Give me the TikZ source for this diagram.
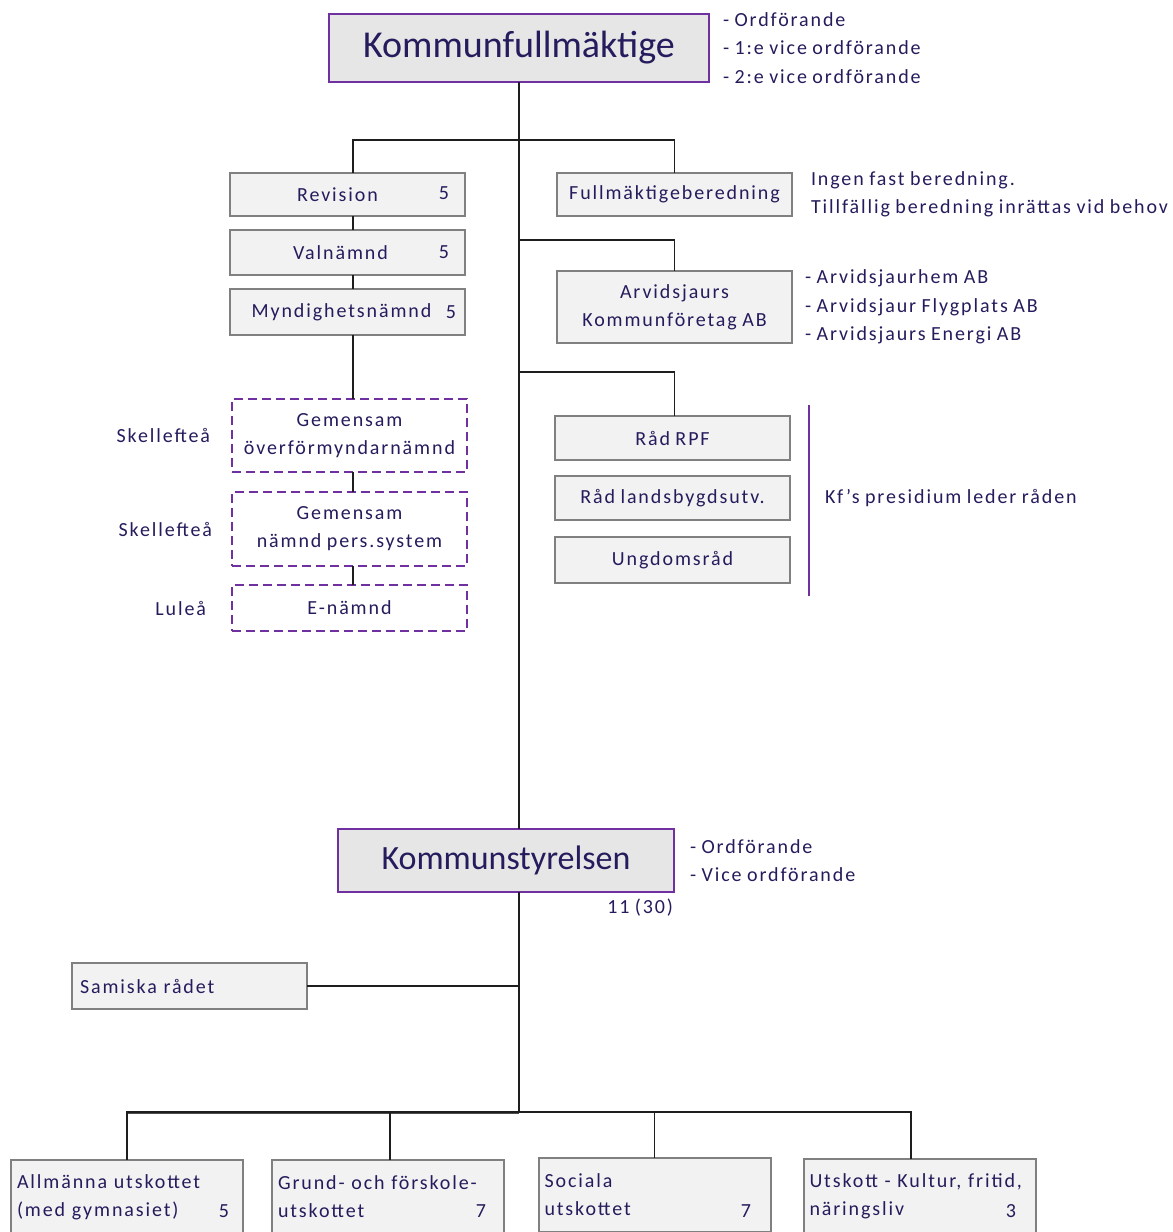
\documentclass[tikz,border=0pt]{standalone}
\usepackage{fontspec}
\setmainfont{Carlito}
\newfontfamily\orgface[LetterSpace=9.5,WordSpace=0.85]{Carlito}
\usetikzlibrary{positioning}

\definecolor{kfpurple}{RGB}{112,48,160}
\definecolor{boxgray}{RGB}{128,128,128}
\definecolor{boxfill}{RGB}{242,242,242}
\definecolor{topfill}{RGB}{230,230,230}
\definecolor{inktext}{RGB}{36,28,92}
\definecolor{treeline}{RGB}{30,30,30}

\begin{document}
\begin{tikzpicture}[x=1pt,y=-1pt,
    every node/.style={inner sep=0pt, outer sep=0pt, text=inktext},
    topbox/.style={draw=kfpurple, line width=2pt, fill=topfill},
    unitbox/.style={draw=boxgray, line width=2pt, fill=boxfill, font=\orgface\fontsize{20}{28}\selectfont, align=center, minimum width=235pt},
    jointbox/.style={draw=kfpurple, line width=2pt, dash pattern=on 9pt off 5pt, fill=white, font=\orgface\fontsize{20}{28}\selectfont, align=center, minimum width=235pt},
    footbox/.style={draw=boxgray, line width=2pt, fill=boxfill, font=\orgface\fontsize{20}{28}\selectfont, align=left, text width=220pt, inner xsep=6pt, minimum height=74pt, anchor=north},
    note/.style={font=\orgface\fontsize{20}{28.5}\selectfont, align=left},
    tree/.style={draw=treeline, line width=1.8pt}]
    \useasboundingbox (0,0) rectangle (1173,1232);
    \clip (0,0) rectangle (1173,1232);
    %Shape: Rectangle [Kommunfullmaktige]
    \node[topbox, minimum width=380pt, minimum height=68pt, font=\fontsize{38}{44}\selectfont] (kf) at (519,48) {Kommunfullmäktige};
    %Shape: Rectangle [left column]
    \node[unitbox, minimum height=43pt] (rev) at (347.5,194.5) {Revision\hspace*{20pt}};
    \node[unitbox, minimum height=45pt] (val) at (347.5,252.5) {Valnämnd\hspace*{14pt}};
    \node[unitbox, minimum height=46pt] (myn) at (347.5,312) {Myndighetsnämnd\hspace*{12pt}};
    \node[jointbox, minimum height=73pt] (gof) at (349.5,435.5) {Gemensam\\överförmyndarnämnd};
    \node[jointbox, minimum height=74pt] (gnp) at (349.5,529) {Gemensam\\nämnd pers.system};
    \node[jointbox, minimum height=46pt] (enm) at (349.5,608) {E-nämnd};
    %Shape: Rectangle [right column]
    \node[unitbox, minimum height=43pt] (fb) at (674.5,194.5) {Fullmäktigeberedning};
    \node[unitbox, minimum height=72pt] (akf) at (674.5,307) {Arvidsjaurs\\Kommunföretag AB};
    \node[unitbox, minimum height=44pt] (rpf) at (672.5,438) {Råd RPF};
    \node[unitbox, minimum height=44pt] (rlb) at (672.5,498) {Råd landsbygdsutv.};
    \node[unitbox, minimum height=46pt] (ungd) at (672.5,560) {Ungdomsråd};
    %Shape: Rectangle [Kommunstyrelsen]
    \node[topbox, minimum width=336pt, minimum height=63pt, font=\fontsize{34}{40}\selectfont] (ks) at (506,860.5) {Kommunstyrelsen};
    \node[unitbox, minimum height=46pt, text width=219pt, inner xsep=8pt, align=left, minimum width=0pt] (sam) at (189.5,986) {Samiska rådet};
    %Shape: Rectangle [utskott]
    \node[footbox] (allm) at (127,1160) {Allmänna utskottet\\(med gymnasiet)};
    \node[footbox] (grund) at (388,1160) {Grund- och förskole-\\utskottet};
    \node[footbox] (soc) at (654.5,1158) {Sociala\\utskottet};
    \node[footbox] (kult) at (919.5,1159) {Utskott - Kultur, fritid,\\näringsliv};

    % Text Node
    \node[note] at (444,193) {5};
    \node[note] at (444,252) {5};
    \node[note] at (451,312) {5};
    \node[note] at (224,1211) {5};
    \node[note] at (481,1211) {7};
    \node[note] at (746,1211) {7};
    \node[note] at (1011,1211) {3};
    \node[note, anchor=east] (ksnum) at (673,908) {11 (30)};
    % Text Node
    \node[note, right=14pt of kf] (kfroles) {- Ordförande\\- 1:e vice ordförande\\- 2:e vice ordförande};
    \node[note, right=19pt of fb] (fbnote) {Ingen fast beredning.\\Tillfällig beredning inrättas vid behov};
    \node[note, right=13pt of akf] (akflist) {- Arvidsjaurhem AB\\- Arvidsjaur Flygplats AB\\- Arvidsjaurs Energi AB};
    \node[note, right=35pt of rlb] (radnote) {Kf’s presidium leder råden};
    \node[note, right=16pt of ks] (ksroles) {- Ordförande\\- Vice ordförande};
    \node[note, left=22pt of gof] (ske1) {Skellefteå};
    \node[note, left=20pt of gnp] (ske2) {Skellefteå};
    \node[note, left=26pt of enm] (lul) {Luleå};

    %Straight Lines [trunk]
    \coordinate (kfbus) at (519,140);
    \coordinate (akfbus) at (519,240);
    \coordinate (radbus) at (519,372);
    \coordinate (ksbus) at (519,1112);
    \draw[tree] (kf.south) -- (kf.south |- ks.north);
    \draw[tree] (kf.south |- ks.south) -- (ksbus);
    %Straight Lines [branches]
    \draw[tree] ([xshift=5.5pt]rev.north) |- (kfbus) -| (fb.north);
    \draw[tree] (akfbus) -| (akf.north);
    \draw[tree] (radbus) -| ([xshift=2pt]rpf.north);
    \draw[tree] ([xshift=5.5pt]rev.south) -- ([xshift=5.5pt]val.north);
    \draw[tree] ([xshift=5.5pt]val.south) -- ([xshift=5.5pt]myn.north);
    \draw[tree] ([xshift=5.5pt]myn.south) -- ([xshift=3.5pt]gof.north);
    \draw[tree] ([xshift=3.5pt]gof.south) -- ([xshift=3.5pt]gnp.north);
    \draw[tree] ([xshift=3.5pt]gnp.south) -- ([xshift=3.5pt]enm.north);
    \draw[tree] (sam.east) -- (ksbus |- sam.east);
    %Straight Lines [utskott]
    \draw[draw=black!70, line width=3pt] (allm.north |- ksbus) -- (ksbus);
    \draw[tree] (allm.north) -- (allm.north |- ksbus) -| ([xshift=-8.5pt]kult.north);
    \draw[tree] ([xshift=2pt]grund.north) -- ([xshift=2pt]grund.north |- ksbus);
    \draw[tree] (soc.north) -- (soc.north |- ksbus);
    %Straight Lines [rad bracket]
    \draw[draw=kfpurple, line width=1.8pt] (809,405) -- (809,596);
\end{tikzpicture}
\end{document}
